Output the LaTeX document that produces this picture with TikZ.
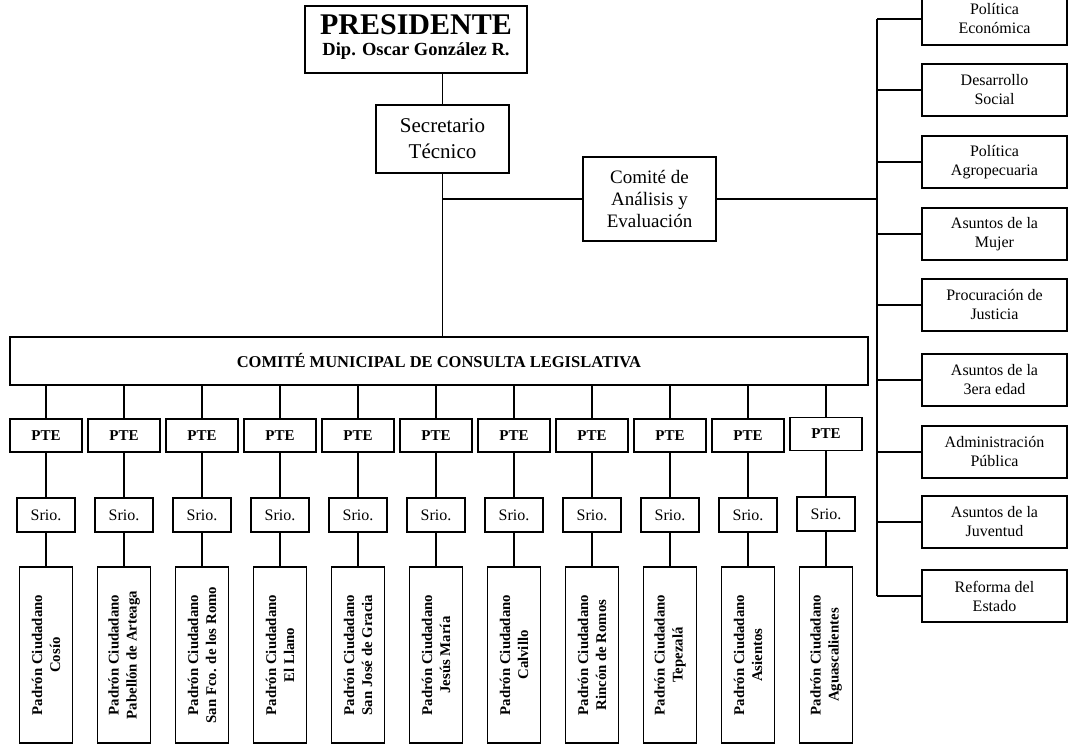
\documentclass[tikz,border=0pt]{standalone}
\usepackage{fontspec}
\setmainfont{Liberation Serif}

\begin{document}
\begin{tikzpicture}[x=1pt, y=-1pt, line width=1.1pt,
	caja/.style={draw, inner sep=0pt, align=center},
	secbox/.style={caja, minimum width=133pt, minimum height=68pt, font=\fontsize{21}{26}\selectfont},
	combox/.style={caja, minimum width=133pt, minimum height=84pt, font=\fontsize{19}{22}\selectfont},
	areabox/.style={caja, minimum width=145pt, minimum height=52pt, font=\fontsize{16}{19}\selectfont},
	ptebox/.style={caja, minimum width=72pt, minimum height=33pt, font=\bfseries\fontsize{15}{18}\selectfont},
	sriobox/.style={caja, minimum width=58pt, minimum height=34pt, font=\fontsize{16}{19}\selectfont},
	padronbox/.style={caja, rotate=90, minimum width=176pt, minimum height=53pt, font=\bfseries\fontsize{14.8}{18}\selectfont}]
		%%%%% START %%%%%
		\useasboundingbox (0,0) rectangle (1069,745);
		
		\node[caja, minimum width=222pt, minimum height=67pt] (pres) at (416,39.5) {};
		\node[anchor=base, inner sep=0pt, font=\bfseries\fontsize{30}{30}\selectfont] (presname) at (416,34) {PRESIDENTE};
		\node[anchor=base, inner sep=0pt, font=\bfseries\fontsize{18.5}{20}\selectfont] (presdip) at (416,55) {Dip. Oscar González R.};
		
		\node[secbox] (sec) at (442.5,139) {Secretario\\Técnico};
		\node[combox] (com) at (649.5,199) {Comité de\\Análisis y\\Evaluación};
		
		\node[caja, minimum width=858pt, minimum height=48pt, font=\bfseries\fontsize{16.5}{20}\selectfont] (cmcl) at (439,361) {COMITÉ MUNICIPAL DE CONSULTA LEGISLATIVA};
		
		\draw (sec.north) -- (sec.north |- pres.south);
		\draw (sec.south) -- (sec.south |- cmcl.north);
		\draw (sec.south |- com.west) -- (com.west);
		
		%%%%% COMISIONES %%%%%
		\coordinate (rtop) at (877,19);
		\coordinate (rbot) at (877,596);
		
		\node[areabox] (ecom) at (994.5,19) {Política\\Económica};
		\node[areabox] (dsoc) at (994.5,90) {Desarrollo\\Social};
		\node[areabox] (pagro) at (994.5,162) {Política\\Agropecuaria};
		\node[areabox] (mujer) at (994.5,234) {Asuntos de la\\Mujer};
		\node[areabox] (pjust) at (994.5,305) {Procuración de\\Justicia};
		\node[areabox] (tedad) at (994.5,380) {Asuntos de la\\3era edad};
		\node[areabox] (apub) at (994.5,452) {Administración\\Pública};
		\node[areabox] (juv) at (994.5,522) {Asuntos de la\\Juventud};
		\node[areabox] (refor) at (994.5,596) {Reforma del\\Estado};
		
		\draw (com.east) -- (com.east -| rtop);
		\draw (rtop) -- (rbot);
		\draw (ecom.west) -- (ecom.west -| rtop) (dsoc.west) -- (dsoc.west -| rtop)
			(pagro.west) -- (pagro.west -| rtop) (mujer.west) -- (mujer.west -| rtop)
			(pjust.west) -- (pjust.west -| rtop) (tedad.west) -- (tedad.west -| rtop)
			(apub.west) -- (apub.west -| rtop) (juv.west) -- (juv.west -| rtop)
			(refor.west) -- (refor.west -| rtop);
		
		%%%%% MUNICIPIOS %%%%%
		\node[ptebox] (pte1) at (46,435.5) {PTE};
		\node[sriobox] (srio1) at (46,515) {Srio.};
		\node[padronbox] (pad1) at (46,655) {Padrón Ciudadano\\Cosío};
		\draw (cmcl.south -| pte1.north) -- (pte1.north) (pte1.south) -- (srio1.north) (srio1.south) -- (pad1.east);
		
		\node[ptebox] (pte2) at (124,435.5) {PTE};
		\node[sriobox] (srio2) at (124,515) {Srio.};
		\node[padronbox] (pad2) at (124,655) {Padrón Ciudadano\\Pabellón de Arteaga};
		\draw (cmcl.south -| pte2.north) -- (pte2.north) (pte2.south) -- (srio2.north) (srio2.south) -- (pad2.east);
		
		\node[ptebox] (pte3) at (202,435.5) {PTE};
		\node[sriobox] (srio3) at (202,515) {Srio.};
		\node[padronbox] (pad3) at (202,655) {Padrón Ciudadano\\San Fco. de los Romo};
		\draw (cmcl.south -| pte3.north) -- (pte3.north) (pte3.south) -- (srio3.north) (srio3.south) -- (pad3.east);
		
		\node[ptebox] (pte4) at (280,435.5) {PTE};
		\node[sriobox] (srio4) at (280,515) {Srio.};
		\node[padronbox] (pad4) at (280,655) {Padrón Ciudadano\\El Llano};
		\draw (cmcl.south -| pte4.north) -- (pte4.north) (pte4.south) -- (srio4.north) (srio4.south) -- (pad4.east);
		
		\node[ptebox] (pte5) at (358,435.5) {PTE};
		\node[sriobox] (srio5) at (358,515) {Srio.};
		\node[padronbox] (pad5) at (358,655) {Padrón Ciudadano\\San José de Gracia};
		\draw (cmcl.south -| pte5.north) -- (pte5.north) (pte5.south) -- (srio5.north) (srio5.south) -- (pad5.east);
		
		\node[ptebox] (pte6) at (436,435.5) {PTE};
		\node[sriobox] (srio6) at (436,515) {Srio.};
		\node[padronbox] (pad6) at (436,655) {Padrón Ciudadano\\Jesús María};
		\draw (cmcl.south -| pte6.north) -- (pte6.north) (pte6.south) -- (srio6.north) (srio6.south) -- (pad6.east);
		
		\node[ptebox] (pte7) at (514,435.5) {PTE};
		\node[sriobox] (srio7) at (514,515) {Srio.};
		\node[padronbox] (pad7) at (514,655) {Padrón Ciudadano\\Calvillo};
		\draw (cmcl.south -| pte7.north) -- (pte7.north) (pte7.south) -- (srio7.north) (srio7.south) -- (pad7.east);
		
		\node[ptebox] (pte8) at (592,435.5) {PTE};
		\node[sriobox] (srio8) at (592,515) {Srio.};
		\node[padronbox] (pad8) at (592,655) {Padrón Ciudadano\\Rincón de Romos};
		\draw (cmcl.south -| pte8.north) -- (pte8.north) (pte8.south) -- (srio8.north) (srio8.south) -- (pad8.east);
		
		\node[ptebox] (pte9) at (670,435.5) {PTE};
		\node[sriobox] (srio9) at (670,515) {Srio.};
		\node[padronbox] (pad9) at (670,655) {Padrón Ciudadano\\Tepezalá};
		\draw (cmcl.south -| pte9.north) -- (pte9.north) (pte9.south) -- (srio9.north) (srio9.south) -- (pad9.east);
		
		\node[ptebox] (pte10) at (748,435.5) {PTE};
		\node[sriobox] (srio10) at (748,515) {Srio.};
		\node[padronbox] (pad10) at (748,655) {Padrón Ciudadano\\Asientos};
		\draw (cmcl.south -| pte10.north) -- (pte10.north) (pte10.south) -- (srio10.north) (srio10.south) -- (pad10.east);
		
		\node[ptebox] (pte11) at (826,434) {PTE};
		\node[sriobox] (srio11) at (826,514) {Srio.};
		\node[padronbox] (pad11) at (826,655) {Padrón Ciudadano\\Aguascalientes};
		\draw (cmcl.south -| pte11.north) -- (pte11.north) (pte11.south) -- (srio11.north) (srio11.south) -- (pad11.east);
		
		%%%%% END %%%%%
\end{tikzpicture}
\end{document}
